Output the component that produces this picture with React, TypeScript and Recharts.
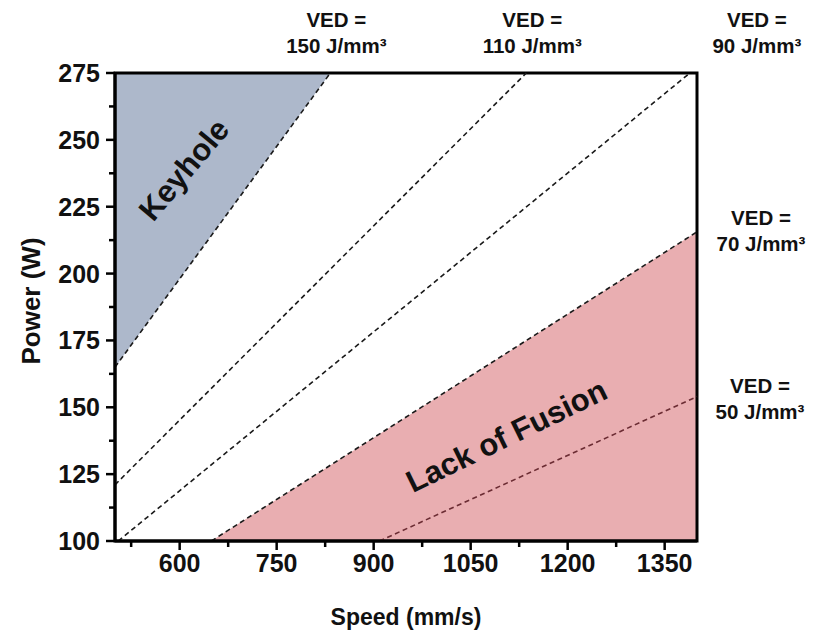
import React from "react";
import {
  Area,
  ComposedChart,
  ReferenceArea,
  ReferenceDot,
  ReferenceLine,
  XAxis,
  YAxis,
} from "recharts";

const FONT = '"Liberation Sans", Arial, sans-serif';

// VED iso-lines, end points (speed mm/s, power W)
const vedLevels = [150, 110, 90, 70, 50];
const vedStartSpeed = [500, 500, 505, 649, 909];
const vedStartPower = [165, 121, 100, 100, 100];
const vedEndSpeed = [833, 1136, 1389, 1400, 1400];
const vedEndPower = [275, 275, 275, 215.6, 154];

// shaded regions
const keyholeSpeed = [500, 833];
const keyholePower = [165, 275];
const lofSpeed = [649, 1400];
const lofPower = [100, 215.6];

const xMajorTicks = [600, 750, 900, 1050, 1200, 1350];
const xMinorTicks = [525, 675, 825, 975, 1125, 1275];
const yMajorTicks = [100, 125, 150, 175, 200, 225, 250, 275];
const yMinorTicks = [112.5, 137.5, 162.5, 187.5, 212.5, 237.5, 262.5];

const regionRows = [
  ...keyholeSpeed.map((s, i) => ({ speed: s, keyhole: keyholePower[i], lof: null })),
  ...lofSpeed.map((s, i) => ({ speed: s, keyhole: null, lof: lofPower[i] })),
].sort((a, b) => a.speed - b.speed);

// where each VED caption sits relative to the end of its line
const vedLabelOffset = [
  { dx: 6, dy: -53 },
  { dx: 6, dy: -53 },
  { dx: 67, dy: -53 },
  { dx: 64, dy: -14 },
  { dx: 63, dy: -11 },
];

function XTick(props: any) {
  const { x, y, payload } = props;
  const major = xMajorTicks.includes(payload.value);
  return (
    <g>
      <line x1={x} x2={x} y1={y} y2={y + (major ? 9 : 6)} stroke="#000" strokeWidth={2.5} />
      {major && (
        <text x={x} y={y + 31} textAnchor="middle" fontFamily={FONT} fontWeight="bold" fontSize={25} fill="#111">
          {payload.value}
        </text>
      )}
    </g>
  );
}

function YTick(props: any) {
  const { x, y, payload } = props;
  const major = yMajorTicks.includes(payload.value);
  return (
    <g>
      <line x1={x} x2={x - (major ? 9 : 6)} y1={y} y2={y} stroke="#000" strokeWidth={2.5} />
      {major && (
        <text x={x - 15} y={y} dy="0.36em" textAnchor="end" fontFamily={FONT} fontWeight="bold" fontSize={25} fill="#111">
          {payload.value}
        </text>
      )}
    </g>
  );
}

function XTitle(props: any) {
  const { x, y, width } = props.viewBox;
  return (
    <text x={x + width / 2} y={y + 84} textAnchor="middle" fontFamily={FONT} fontWeight="bold" fontSize={23} fill="#111">
      Speed (mm/s)
    </text>
  );
}

function YTitle(props: any) {
  const { x, y, height } = props.viewBox;
  const cx = x + 23;
  const cy = y + height / 2 - 6;
  return (
    <text
      x={cx}
      y={cy}
      dy="0.36em"
      textAnchor="middle"
      transform={`rotate(-90 ${cx} ${cy})`}
      fontFamily={FONT}
      fontWeight="bold"
      fontSize={26}
      fill="#111"
    >
      Power (W)
    </text>
  );
}

function VedLabel(props: any) {
  const { viewBox, ved, offX, offY } = props;
  const cx = viewBox.x + offX;
  const cy = viewBox.y + offY;
  return (
    <g fontFamily={FONT} fontWeight="bold" fontSize={20.5} fill="#111" textAnchor="middle">
      <text x={cx} y={cy} dy="0.36em">VED =</text>
      <text x={cx} y={cy + 26} dy="0.36em">{`${ved} J/mm³`}</text>
    </g>
  );
}

function RegionLabel(props: any) {
  const { viewBox, caption, rot } = props;
  const cx = viewBox.x;
  const cy = viewBox.y;
  return (
    <text
      x={cx}
      y={cy}
      dy="0.36em"
      textAnchor="middle"
      transform={`rotate(${rot} ${cx} ${cy})`}
      fontFamily={FONT}
      fontWeight="bold"
      fontSize={31}
      fill="#111"
    >
      {caption}
    </text>
  );
}

export default function App() {
  return (
    <ComposedChart
      width={802}
      height={624}
      data={regionRows}
      margin={{ top: 65, right: 113, bottom: 0, left: 0 }}
    >
      <XAxis
        dataKey="speed"
        type="number"
        domain={[500, 1400]}
        ticks={[...xMinorTicks, ...xMajorTicks].sort((a, b) => a - b)}
        interval={0}
        allowDataOverflow
        height={91}
        tickSize={0}
        tickMargin={0}
        tickLine={false}
        axisLine={{ stroke: "#000", strokeWidth: 3 }}
        tick={<XTick />}
        label={<XTitle />}
      />
      <YAxis
        type="number"
        domain={[100, 275]}
        ticks={[...yMinorTicks, ...yMajorTicks].sort((a, b) => a - b)}
        interval={0}
        allowDataOverflow
        width={107}
        tickSize={0}
        tickMargin={0}
        tickLine={false}
        axisLine={{ stroke: "#000", strokeWidth: 3 }}
        tick={<YTick />}
        label={<YTitle />}
      />
      <Area
        type="linear"
        dataKey="keyhole"
        baseValue={275}
        connectNulls
        stroke="none"
        fill="#adb8cb"
        fillOpacity={1}
        dot={false}
        activeDot={false}
        isAnimationActive={false}
      />
      <Area
        type="linear"
        dataKey="lof"
        baseValue={100}
        connectNulls
        stroke="none"
        fill="#e9aeb1"
        fillOpacity={1}
        dot={false}
        activeDot={false}
        isAnimationActive={false}
      />
      {vedLevels.map((ved, i) => (
        <ReferenceLine
          key={`line-${ved}`}
          segment={[
            { x: vedStartSpeed[i], y: vedStartPower[i] },
            { x: vedEndSpeed[i], y: vedEndPower[i] },
          ]}
          stroke={ved === 50 ? "#6b2c33" : "#1a1a1a"}
          strokeWidth={1.6}
          strokeDasharray="5 3.5"
          ifOverflow="visible"
        />
      ))}
      <ReferenceArea
        x1={500}
        x2={1400}
        y1={100}
        y2={275}
        fill="none"
        fillOpacity={0}
        stroke="#000"
        strokeWidth={3}
        ifOverflow="visible"
      />
      {vedLevels.map((ved, i) => (
        <ReferenceDot
          key={`lab-${ved}`}
          x={vedEndSpeed[i]}
          y={vedEndPower[i]}
          r={0}
          fill="none"
          stroke="none"
          ifOverflow="visible"
          label={<VedLabel ved={ved} offX={vedLabelOffset[i].dx} offY={vedLabelOffset[i].dy} />}
        />
      ))}
      <ReferenceDot
        x={606}
        y={239}
        r={0}
        fill="none"
        stroke="none"
        ifOverflow="visible"
        label={<RegionLabel caption="Keyhole" rot={-50} />}
      />
      <ReferenceDot
        x={1105}
        y={139.5}
        r={0}
        fill="none"
        stroke="none"
        ifOverflow="visible"
        label={<RegionLabel caption="Lack of Fusion" rot={-26} />}
      />
    </ComposedChart>
  );
}
